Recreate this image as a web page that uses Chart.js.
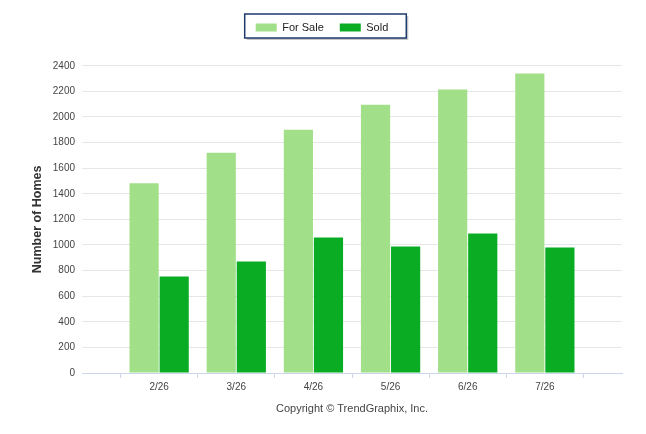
<!DOCTYPE html>
<html>
<head>
<meta charset="utf-8">
<title>Number of Homes</title>
<script src="https://cdn.jsdelivr.net/npm/chart.js@4/dist/chart.umd.min.js"></script>
<style>
  html, body { margin:0; padding:0; background:#fff; }
  #wrap { width:646px; height:434px; position:relative; }
</style>
</head>
<body>
<div id="wrap"><canvas id="chart"></canvas></div>
<script>
// ── data ──────────────────────────────────────────────
// empty labels at both ends keep the months on ticks, as in the original
const months  = ['', '2/26', '3/26', '4/26', '5/26', '6/26', '7/26', ''];
const forSale = [null, 1482, 1721, 1901, 2096, 2215, 2340, null];
const sold    = [null, 754, 871, 1059, 988, 1090, 980, null];
const yTicks  = [0, 200, 400, 600, 800, 1000, 1200, 1400, 1600, 1800, 2000, 2200, 2400];

const FONT = '"Liberation Sans", Arial, sans-serif';
const C_SALE = '#a1e089';
const C_SOLD = '#0aac24';

// legend sits a bit right of the layout centre in the original
const legendShift = {
  id: 'legendShift',
  afterLayout(chart) {
    const lg = chart.legend;
    if (!lg) return;
    lg.left += 11; lg.right += 11;
    (lg.legendHitBoxes || []).forEach(h => { h.left += 11; });
  }
};

// framed legend with a little shadow
const legendBox = {
  id: 'legendBox',
  beforeDraw(chart) {
    const hb = chart.legend && chart.legend.legendHitBoxes;
    if (!hb || !hb.length) return;
    const last = hb[hb.length - 1];
    const x1 = hb[0].left - 11, x2 = last.left + last.width + 18;
    const y1 = 14, y2 = 38;
    const ctx = chart.ctx;
    ctx.save();
    ctx.fillStyle = 'rgba(0,0,0,0.22)';
    ctx.fillRect(x1 + 2, y1 + 2, x2 - x1, y2 - y1);
    ctx.fillStyle = '#fff';
    ctx.fillRect(x1, y1, x2 - x1, y2 - y1);
    ctx.strokeStyle = '#1f3a6e';
    ctx.lineWidth = 1.5;
    ctx.strokeRect(x1, y1, x2 - x1, y2 - y1);
    ctx.restore();
  }
};

new Chart(document.getElementById('chart'), {
  type: 'bar',
  data: {
    labels: months,
    datasets: [
      { label: 'For Sale', data: forSale, backgroundColor: C_SALE },
      { label: 'Sold',     data: sold,    backgroundColor: C_SOLD },
    ]
  },
  options: {
    responsive: true, maintainAspectRatio: false, animation: false,
    datasets: { bar: { categoryPercentage: 0.78, barPercentage: 0.97 } },
    layout: { padding: { top: 6, right: 24, left: 0, bottom: 0 } },
    plugins: {
      tooltip: { enabled: false },
      legend: {
        position: 'top',
        labels: { boxWidth: 21, boxHeight: 8, padding: 16, color: '#222',
                  font: { family: FONT, size: 11 } }
      },
      // empty spacer between legend and plot
      title: { display: true, text: '', weight: 500, font: { size: 1 }, padding: 10.8 },
    },
    scales: {
      x: {
        offset: false,
        grid: { drawOnChartArea: false, drawTicks: true, tickLength: 5, color: '#ccd6eb' },
        border: { display: true, color: '#ccd6eb' },
        ticks: { autoSkip: false, maxRotation: 0, padding: 3, color: '#444',
                 font: { family: FONT, size: 10 } },
        title: { display: true, text: 'Copyright © TrendGraphix, Inc.', color: '#444',
                 font: { family: FONT, size: 11 }, padding: { top: 0, bottom: 18 } },
        afterFit: s => { s.height = 61; }
      },
      y: {
        min: 0, max: 2400,
        grid: { color: '#e6e6e6', drawTicks: false },
        border: { display: false },
        afterBuildTicks: s => { s.ticks = yTicks.map(v => ({ value: v })); },
        ticks: { padding: 7, color: '#444', font: { family: FONT, size: 10 },
                 callback: v => String(v) },
        title: { display: true, text: 'Number of Homes', color: '#333',
                 font: { family: FONT, size: 12.5, weight: 'bold' }, padding: { top: 30, bottom: 0 } },
        afterFit: s => { s.width = 82; }
      }
    }
  },
  plugins: [legendShift, legendBox]
});
</script>
</body>
</html>
